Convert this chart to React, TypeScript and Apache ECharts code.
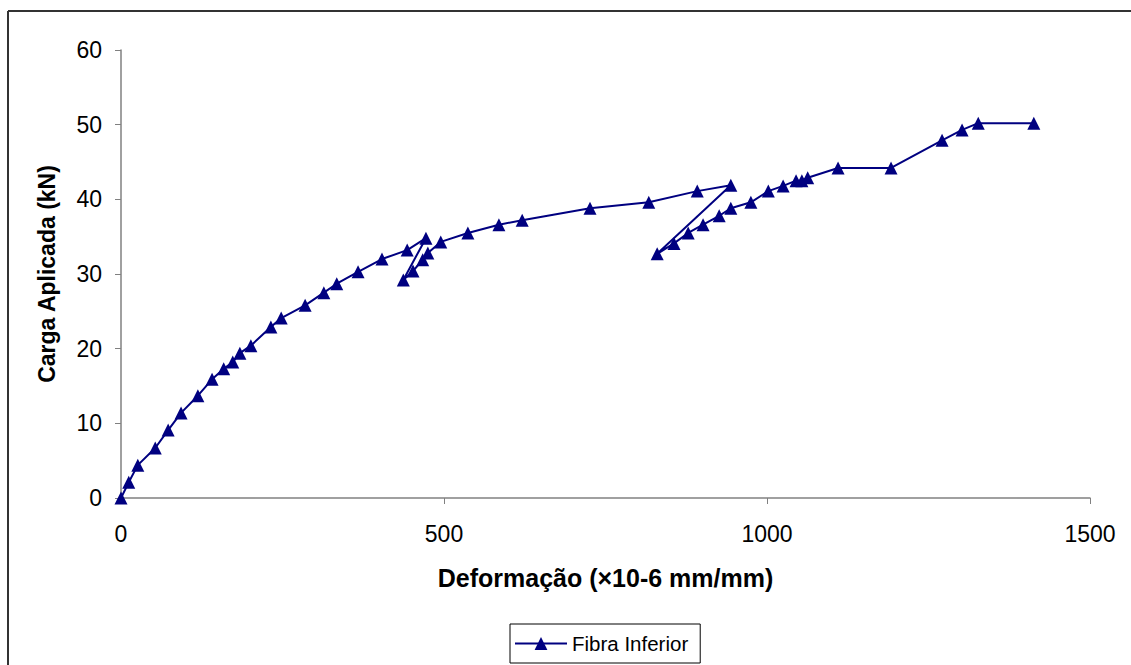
import React, { useEffect, useRef } from "react";
import * as echarts from "echarts";

const seriesName = "Fibra Inferior";
const strain = [
  0, 12, 26, 53, 73, 93, 119, 141, 159, 173, 184, 201, 232, 248, 285, 314, 334, 367, 404, 443, 472,
  437, 452, 467, 475, 495, 537, 585, 621, 726, 817, 892, 944,
  830, 856, 878, 901, 926, 944, 975, 1002, 1025, 1045, 1054, 1063, 1110, 1192, 1271, 1302, 1327, 1413,
];
const load = [
  0, 2.1, 4.4, 6.7, 9.1, 11.4, 13.7, 15.9, 17.3, 18.2, 19.4, 20.4, 22.9, 24.1, 25.8, 27.5, 28.7, 30.3, 32.0, 33.2, 34.8,
  29.2, 30.4, 31.9, 32.8, 34.3, 35.5, 36.6, 37.2, 38.8, 39.6, 41.1, 41.9,
  32.7, 34.1, 35.5, 36.6, 37.8, 38.8, 39.6, 41.1, 41.8, 42.5, 42.5, 42.9, 44.2, 44.2, 47.9, 49.3, 50.2, 50.2,
];
const xTitle = "Deformação (×10-6 mm/mm)";
const yTitle = "Carga Aplicada (kN)";

export default function App() {
  const ref = useRef<HTMLDivElement>(null);
  useEffect(() => {
    const chart = echarts.init(ref.current!, null, { renderer: "svg" });
    const data = strain.map((x, i) => [x, load[i]]);
    const font = "'Liberation Sans', Arial, sans-serif";
    chart.setOption({
      animation: false,
      backgroundColor: "#ffffff",
      textStyle: { fontFamily: font },
      grid: { left: 121, top: 50, right: 41, bottom: 167, containLabel: false },
      xAxis: {
        type: "value",
        min: 0,
        max: 1500,
        interval: 500,
        name: xTitle,
        nameLocation: "middle",
        nameGap: 67,
        nameTextStyle: { fontSize: 25, fontWeight: "bold", color: "#000", fontFamily: font },
        axisLine: { show: true, lineStyle: { color: "#808080", width: 1.5 } },
        axisTick: { show: true, inside: false, length: 6, lineStyle: { color: "#808080" } },
        axisLabel: { fontSize: 23, color: "#000", margin: 24, fontFamily: font, formatter: (v: number) => String(v) },
        splitLine: { show: false },
      },
      yAxis: {
        type: "value",
        min: 0,
        max: 60,
        interval: 10,
        name: yTitle,
        nameLocation: "middle",
        nameGap: 63,
        nameRotate: 90,
        nameTextStyle: { fontSize: 23, fontWeight: "bold", color: "#000", fontFamily: font },
        axisLine: { show: true, lineStyle: { color: "#808080", width: 1.5 } },
        axisTick: { show: true, inside: false, length: 6, lineStyle: { color: "#808080" } },
        axisLabel: { fontSize: 23, color: "#000", margin: 19, fontFamily: font },
        splitLine: { show: false },
      },
      legend: {
        show: true,
        left: 510,
        top: 624,
        padding: [9, 12, 9, 4],
        borderColor: "#000",
        borderWidth: 1,
        itemWidth: 52,
        itemHeight: 16,
        itemGap: 5,
        textStyle: { fontSize: 20.5, color: "#000", fontFamily: font, padding: [0, 0, 0, 0] },
        data: [seriesName],
      },
      graphic: [
        { type: "line", shape: { x1: 8, y1: 11, x2: 1131, y2: 11 }, style: { stroke: "#333", lineWidth: 2 } },
        { type: "line", shape: { x1: 8, y1: 11, x2: 8, y2: 665 }, style: { stroke: "#333", lineWidth: 2 } },
      ],
      series: [
        {
          name: seriesName,
          type: "line",
          data,
          symbol: "triangle",
          symbolSize: 13,
          itemStyle: { color: "#000080" },
          lineStyle: { color: "#000080", width: 2 },
          showAllSymbol: true,
        },
      ],
    });
    return () => chart.dispose();
  }, []);
  return (
    <div
      ref={ref}
      style={{ position: "absolute", left: 0, top: 0, width: 1131, height: 665 }}
    />
  );
}
